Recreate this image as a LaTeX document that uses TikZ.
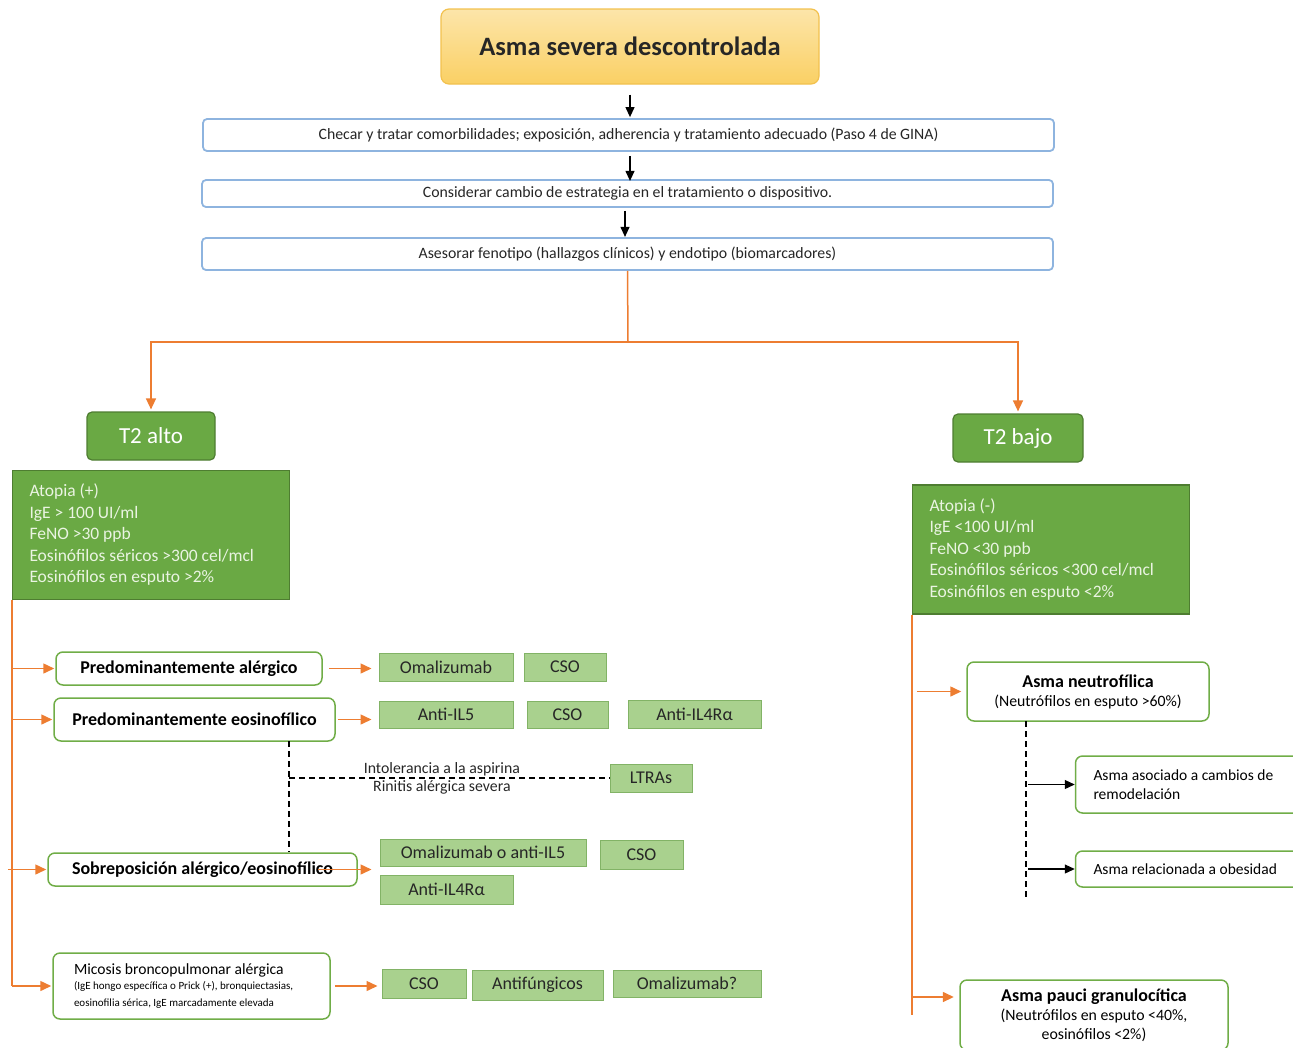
\documentclass[tikz,border=0pt]{standalone}
\usepackage{fontspec}
\setmainfont{Carlito}
\usetikzlibrary{calc,arrows.meta,positioning}
\usepackage{xcolor}
\definecolor{cgold}{HTML}{FAD064}
\definecolor{cgoldln}{HTML}{F2C14E}
\definecolor{cblue}{HTML}{8EB4DF}
\definecolor{corange}{HTML}{ED7D31}
\definecolor{cgreen}{HTML}{6AA944}
\definecolor{cgreendk}{HTML}{4E7D31}
\definecolor{ctextlt}{HTML}{EAF4E2}
\definecolor{clgreen}{HTML}{A9D18E}
\definecolor{clgreenln}{HTML}{82B366}
\definecolor{cgreenln}{HTML}{70AD47}
\definecolor{cdark}{HTML}{262626}
\tikzstyle{goldshading}=[top color=cgold!55, bottom color=cgold]
\newcommand\fsz[2]{\fontsize{#1}{#2}\selectfont}
\tikzset{
	every node/.style={text=cdark, execute at begin node={\spaceskip=0pt\xspaceskip=0pt\relax}},
	titlebox/.style={goldshading, draw=cgoldln, line width=1.2, rounded corners=8,
		minimum width=378, minimum height=75, font=\fsz{26.5}{30}\bfseries},
	stepbox/.style={draw=cblue, line width=1.8, fill=white, rounded corners=4,
		minimum width=851, font=\fsz{15.8}{18}},
	%%%
	t2box/.style={fill=cgreen, draw=cgreendk, line width=1.2, rounded corners=5,
		minimum width=128, minimum height=48, text=white, font=\fsz{23}{26}},
	critbox/.style={fill=cgreen, draw=cgreendk, line width=1.4, inner xsep=17,
		text width=243, minimum height=129, align=left, text=ctextlt, font=\fsz{17.5}{21.5}},
	phenobox/.style={draw=cgreenln, line width=1.5, fill=white, rounded corners=7,
		text=black, font=\fsz{18}{21}\bfseries},
	subbox/.style={draw=cgreenln, line width=1.5, fill=white, rounded corners=7,
		text=black, align=left, inner xsep=18, font=\fsz{15.8}{19}},
	txbox/.style={fill=clgreen, draw=clgreenln, line width=1, inner sep=0,
		font=\fsz{18}{20}},
	%%%
	orline/.style={corange, line width=1.5},
	orarrow/.style={orline, -{Triangle[length=11pt,width=10pt]}},
	blkarrow/.style={black, line width=1.1, -{Triangle[length=10pt,width=9pt]}},
	dashln/.style={black, line width=1.6, dash pattern=on 6pt off 4pt},
	dlabel/.style={inner sep=1.5, font=\fsz{15.8}{17}},
}

\begin{document}
\begin{tikzpicture}[x=1pt, y=-1pt]

	\clip (0,0) rectangle (1293,1047);

	%%% Top chain

	\node[titlebox] (top) at (630,46.5) {Asma severa descontrolada};
	\node[stepbox, minimum height=32] (chk) at (628.5,135) {Checar y tratar comorbilidades; exposición, adherencia y tratamiento adecuado (Paso 4 de GINA)};
	\node[stepbox, minimum height=27] (cons) at (627.5,193.5) {Considerar cambio de estrategia en el tratamiento o dispositivo.};
	\node[stepbox, minimum height=32] (ases) at (627.5,254) {Asesorar fenotipo (hallazgos clínicos) y endotipo (biomarcadores)};

	\draw[blkarrow, shorten <=10pt, shorten >=1pt] (top.south) -- (top.south |- chk.north);
	\draw[blkarrow, shorten <=4pt] (chk.south) ++(1.5,0) -- ++(0,29);
	\draw[blkarrow, shorten <=3pt, shorten >=2pt] (cons.south) ++(-2.5,0) -- ++(0,31);

	%%% T2 split

	\node[t2box] (t2a) at (151,436) {T2 alto};
	\node[t2box, minimum width=130] (t2b) at (1018,438) {T2 bajo};

	\coordinate (fork) at (628,342);
	\draw[orline] (ases.south) -- (fork);
	\draw[orarrow, shorten >=2pt] (fork) -| (t2a.north);
	\draw[orarrow, shorten >=2pt] (fork) -| (t2b.north);

	\node[critbox] (crA) at (151,535) {Atopia (+)\\IgE > 100 UI/ml\\FeNO >30 ppb\\Eosinófilos séricos >300 cel/mcl\\Eosinófilos en esputo >2\%};
	\node[critbox] (crB) at (1051,549.5) {Atopia (-)\\IgE <100 UI/ml\\FeNO <30 ppb\\Eosinófilos séricos <300 cel/mcl\\Eosinófilos en esputo <2\%};

	%%% T2 alto branch

	\node[phenobox, minimum width=266, minimum height=33] (pa) at (189,668.5) {Predominantemente alérgico};
	\node[phenobox, minimum width=281, minimum height=43] (pe) at (194.5,719.5) {Predominantemente eosinofílico};
	\node[phenobox, minimum width=309, minimum height=33] (sob) at (202.5,869.5) {Sobreposición alérgico/eosinofílico};
	\node[subbox, text width=235, inner xsep=21, minimum height=66, font=\fsz{15.6}{17}] (mic) at (191.5,986)
		{Micosis broncopulmonar alérgica\\[1pt]{\fsz{11}{13.5}(IgE hongo específica o Prick (+), bronquiectasias,\\eosinofilia sérica, IgE marcadamente elevada}};

	\draw[orline] (crA.south west) -- (crA.south west |- mic.west);
	\draw[orarrow, shorten >=1pt] (crA.south west |- pa.west) -- (pa.west);
	\draw[orarrow, shorten >=1pt] (crA.south west |- pe.west) -- (pe.west);
	\draw[orarrow, shorten >=1pt] (crA.south west |- sob.west) ++(-4,0) -- (sob.west);
	\draw[orarrow, shorten >=1pt] (crA.south west |- mic.west) -- (mic.west);

	\node[txbox, minimum width=134, minimum height=28] (om1) at (446,667) {Omalizumab};
	\node[txbox, minimum width=82, minimum height=28] (cso1) at (565,667) {CSO};
	\node[txbox, minimum width=134, minimum height=27] (il5) at (446,714.5) {Anti-IL5};
	\node[txbox, minimum width=81, minimum height=27] (cso2) at (567.5,714.5) {CSO};
	\node[txbox, minimum width=133, minimum height=28] (il4a) at (694.5,714) {Anti-IL4Rα};
	\node[txbox, minimum width=82, minimum height=28] (ltra) at (651,778) {LTRAs};
	\node[txbox, minimum width=206, minimum height=27] (omil5) at (483,852.5) {Omalizumab o anti-IL5};
	\node[txbox, minimum width=83, minimum height=29] (cso3) at (641.5,854.5) {CSO};
	\node[txbox, minimum width=133, minimum height=29] (il4b) at (446.5,889.5) {Anti-IL4Rα};
	\node[txbox, minimum width=84, minimum height=29] (cso4) at (424,983.5) {CSO};
	\node[txbox, minimum width=131, minimum height=30] (antif) at (537.5,985) {Antifúngicos};
	\node[txbox, minimum width=148, minimum height=27] (omq) at (687,983.5) {Omalizumab?};

	\draw[orarrow, shorten <=6pt, shorten >=7pt] (pa.east) -- (pa.east -| om1.west);
	\draw[orarrow, shorten <=2pt, shorten >=7pt] (pe.east) -- (pe.east -| il5.west);
	\draw[orarrow, shorten >=8pt] ($(sob.east)+(-40,0)$) -- (sob.east -| omil5.west);
	\draw[orarrow, shorten <=4pt, shorten >=4pt] (mic.east) -- (mic.east -| cso4.west);

	% dashed side branch
	\coordinate (dA) at (289,741);
	\draw[dashln] (dA) -- (dA |- sob.north);
	\draw[dashln] (dA |- ltra.west) -- (ltra.west)
		node[dlabel, pos=0.477, above] {Intolerancia a la aspirina}
		node[dlabel, pos=0.477, below] {Rinitis alérgica severa};

	%%% T2 bajo branch

	\node[subbox, align=center, inner xsep=4, minimum width=242, minimum height=59] (neu) at (1088,691.5)
		{\textbf{\fsz{18}{21}Asma neutrofílica}\\(Neutrófilos en esputo >60\%)};
	\node[subbox, align=center, inner xsep=4, minimum width=268, minimum height=70] (pau) at (1094,1015)
		{\textbf{\fsz{18}{21}Asma pauci granulocítica}\\(Neutrófilos en esputo <40\%,\\eosinófilos <2\%)};
	\node[subbox, text width=193, minimum height=57, font=\fsz{15.5}{18.5}] (remo) at (1190,784.5)
		{Asma asociado a cambios de\\remodelación};
	\node[subbox, text width=193, minimum height=36, font=\fsz{15.5}{18.5}] (obes) at (1190,869)
		{Asma relacionada a obesidad};

	\draw[orline] (crB.south west) -- (crB.south west |- pau.west);
	\draw[orarrow, shorten <=5pt, shorten >=5pt] (crB.south west |- neu.west) -- (neu.west);
	\draw[orarrow, shorten >=5pt] (crB.south west |- pau.west) ++(0,-18) -- ++(47,0);

	\coordinate (dB) at (1026,721);
	\draw[dashln] (dB) -- ++(0,179);
	\draw[blkarrow, shorten <=2pt] (dB |- remo.west) -- (remo.west);
	\draw[blkarrow, shorten <=2pt] (dB |- obes.west) -- (obes.west);

\end{tikzpicture}
\end{document}
